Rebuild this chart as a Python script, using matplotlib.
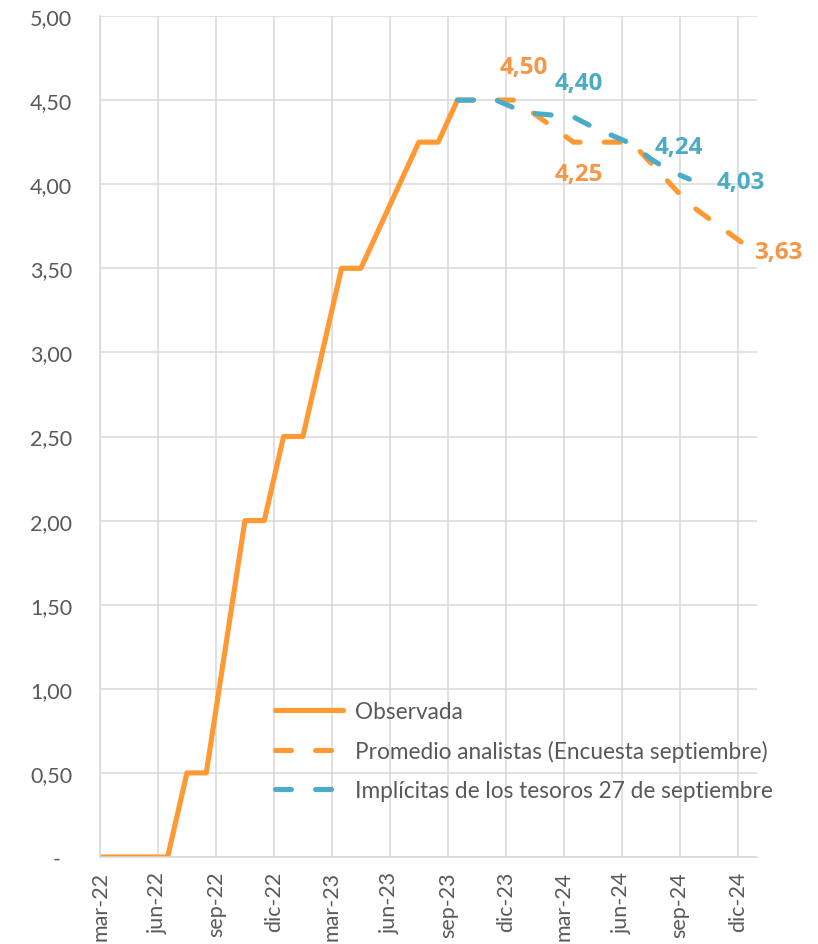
import matplotlib.pyplot as plt

plt.rcParams['font.family'] = ['Lato', 'DejaVu Sans']

# eje x: meses desde mar-22 (indice 0); los datos van a mitad de mes
tick_labels = ['mar-22', 'jun-22', 'sep-22', 'dic-22', 'mar-23', 'jun-23',
               'sep-23', 'dic-23', 'mar-24', 'jun-24', 'sep-24', 'dic-24']
tick_idx = [0, 3, 6, 9, 12, 15, 18, 21, 24, 27, 30, 33]

# Observada (feb-22 a sep-23, mensual)
obs_idx = list(range(-1, 19))
obs_val = [0, 0, 0, 0, 0, 0.5, 0.5, 1.25, 2.0, 2.0, 2.5, 2.5, 3.0, 3.5, 3.5,
           3.75, 4.0, 4.25, 4.25, 4.5]

# Promedio analistas (trimestral, sep-23 a dic-24)
ana_idx = [18, 21, 24, 27, 30, 33]
ana_val = [4.50, 4.50, 4.25, 4.25, 3.88, 3.63]

# Implicitas de los tesoros (mensual, sep-23 a sep-24)
imp_idx = list(range(18, 31))
imp_val = [4.50, 4.50, 4.50, 4.45, 4.42, 4.41, 4.40, 4.34, 4.29, 4.24,
           4.15, 4.08, 4.03]

yticks = [0, 0.5, 1, 1.5, 2, 2.5, 3, 3.5, 4, 4.5, 5]

naranja = '#FF9933'
azul = '#4BACC6'
gris = '#595959'

fig = plt.figure(figsize=(8.18, 9.45), dpi=100)
ax = fig.add_axes([100/818, 87/945, 657/818, 841/945])

ax.plot([i + 0.5 for i in obs_idx], obs_val, color=naranja, lw=3.7,
        solid_capstyle='round', solid_joinstyle='round', label='Observada')
ax.plot([i + 0.5 for i in ana_idx], ana_val, color=naranja, lw=3.7,
        dashes=(3.1, 4.7), dash_capstyle='round',
        label='Promedio analistas (Encuesta septiembre)')
ax.plot([i + 0.5 for i in imp_idx], imp_val, color=azul, lw=3.7,
        dashes=(3.1, 4.7), dash_capstyle='round',
        label='Implícitas de los tesoros 27 de septiembre')

# etiquetas de datos
def etiqueta(i, v, color, dx, dy):
    ax.annotate(f'{v:.2f}'.replace('.', ','), (i + 0.5, v), xytext=(dx, dy),
                textcoords='offset points', ha='center', va='center',
                color=color, fontsize=17.5, fontweight='bold',
                family=['Open Sans', 'DejaVu Sans'])

etiqueta(21, 4.50, '#F79646', 6, 24)
etiqueta(24, 4.25, '#F79646', 4, -23)
etiqueta(33, 3.63, '#F79646', 22, -4)
etiqueta(24, 4.40, azul, 4, 24.5)
etiqueta(27, 4.24, azul, 34, -2)
etiqueta(30, 4.03, azul, 37, -2)

ax.set_xlim(0, 34)
ax.set_ylim(0, 5)
ax.set_xticks(tick_idx)
ax.set_xticklabels(tick_labels, rotation=90, va='top', ha='center')
ax.set_yticks(yticks)
ax.set_yticklabels(['-  '] + [f'{v:.2f}'.replace('.', ',') for v in yticks[1:]])
ax.tick_params(length=0, labelsize=15.5, labelcolor=gris)
ax.tick_params(axis='y', pad=20)
ax.tick_params(axis='x', pad=10)

ax.grid(True, color='#D9D9D9', lw=1.1)
ax.set_axisbelow(True)
for s in ['top', 'right']:
    ax.spines[s].set_visible(False)
for s in ['left', 'bottom']:
    ax.spines[s].set_color('#D9D9D9')
    ax.spines[s].set_linewidth(1.1)

ax.legend(loc='upper left', bbox_to_anchor=(0.267, 0.185), frameon=False,
          fontsize=16.3, labelcolor=gris, handlelength=3.0,
          handletextpad=0.5, labelspacing=0.78, borderpad=0,
          borderaxespad=0)

fig.savefig('out.png', dpi=100)
